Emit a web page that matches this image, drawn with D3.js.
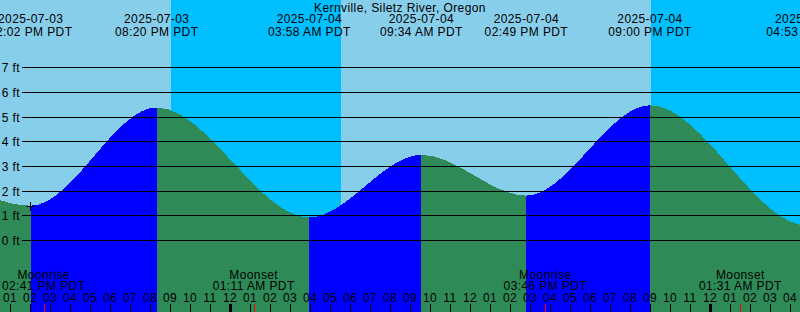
<!DOCTYPE html>
<html>
<head>
<meta charset="utf-8">
<script src="https://cdn.jsdelivr.net/npm/d3@7"></script>
<style>
  body { margin: 0; background: #fff; }
  svg { display: block; }
  text { font-family: "Liberation Sans", Arial, sans-serif; font-size: 12px; letter-spacing: 0.4px; fill: #000; }
</style>
</head>
<body>
<div class="chart"></div>
<script>
// tide extremes (first and last are just off screen)
const tideTimes = ["2025-07-03 08:45 AM", "2025-07-03 02:02 PM", "2025-07-03 08:20 PM",
    "2025-07-04 03:58 AM", "2025-07-04 09:34 AM", "2025-07-04 02:49 PM",
    "2025-07-04 09:00 PM", "2025-07-05 04:53 AM", "2025-07-05 10:20 AM"];
const tideHeights = [3.3, 1.39, 5.37, 0.92, 3.45, 1.8, 5.46, 0.58, 3.4];

// sunset / sunrise
const nightStarts = ["2025-07-03 09:03 PM", "2025-07-04 09:03 PM"];
const nightEnds = ["2025-07-04 05:33 AM", "2025-07-05 05:34 AM"];

// moon
const moonTimes = ["2025-07-03 02:41 PM", "2025-07-04 01:11 AM", "2025-07-04 03:46 PM", "2025-07-05 01:31 AM"];
const moonLabels = ["Moonrise", "Moonset", "Moonrise", "Moonset"];

const feetTicks = [0, 1, 2, 3, 4, 5, 6, 7];
const title = "Kernville, Siletz River, Oregon";

function drawChart() {
    const w = 800;
    const h = 312;
    const parse = d3.utcParse("%Y-%m-%d %I:%M %p");
    const fmtDate = d3.utcFormat("%Y-%m-%d");
    const fmtTime = d3.utcFormat("%I:%M %p PDT");

    const tides = tideTimes.map((t, i) => ({ t: parse(t), v: tideHeights[i] }));

    const xScale = d3.scaleUtc()
        .domain([parse("2025-07-03 12:30 PM"), parse("2025-07-05 04:30 AM")])
        .range([0, w]);

    const yScale = d3.scaleLinear()
        .domain([0, 7])
        .range([240, 67.3]);

    const svg = d3.select('.chart')
        .append('svg')
        .attr('width', w)
        .attr('height', h);

    // day / night background
    svg.append('rect')
        .attr('width', w)
        .attr('height', h)
        .attr('fill', '#87ceeb');

    svg.selectAll('.night')
        .data(nightStarts)
        .enter().append('rect')
        .attr('class', 'night')
        .attr('x', d => Math.round(xScale(parse(d))))
        .attr('width', (d, i) => Math.round(xScale(parse(nightEnds[i]))) - Math.round(xScale(parse(d))))
        .attr('y', 0)
        .attr('height', h)
        .attr('fill', '#00bfff');

    // water, blue while rising and green while falling
    const area = d3.area()
        .x(d => xScale(d.t))
        .y0(h)
        .y1(d => yScale(d.v))
        .curve(d3.curveMonotoneX);

    const defs = svg.append('defs');
    for (let i = 0; i < tides.length - 1; i++) {
        const x0 = Math.round(xScale(tides[i].t));
        const x1 = Math.round(xScale(tides[i + 1].t));
        defs.append('clipPath')
            .attr('id', 'seg' + i)
            .append('rect')
            .attr('x', x0)
            .attr('width', x1 - x0)
            .attr('y', 0)
            .attr('height', h);

        svg.append('path')
            .datum(tides)
            .attr('d', area)
            .attr('clip-path', 'url(#seg' + i + ')')
            .attr('fill', tides[i + 1].v > tides[i].v ? '#0000ff' : '#2e8b57')
            .attr('shape-rendering', 'crispEdges');
    }

    // feet grid
    const grid = svg.append('g');
    grid.selectAll('line')
        .data(feetTicks)
        .enter().append('line')
        .attr('x1', 22)
        .attr('x2', w)
        .attr('y1', d => Math.round(yScale(d)) + 0.5)
        .attr('y2', d => Math.round(yScale(d)) + 0.5)
        .attr('stroke', '#000')
        .attr('stroke-width', 1);

    grid.selectAll('text')
        .data(feetTicks)
        .enter().append('text')
        .attr('x', 20)
        .attr('y', d => Math.round(yScale(d)) + 4.5)
        .attr('text-anchor', 'end')
        .text(d => d + ' ft');

    // current time mark
    const now = tides[1];
    const nx = Math.round(xScale(now.t)) - 0.5;
    const ny = Math.round(yScale(now.v)) + 0.5;
    svg.append('path')
        .attr('d', `M${nx - 4},${ny}H${nx + 4}M${nx},${ny - 4.5}V${ny + 4.5}`)
        .attr('stroke', '#000')
        .attr('fill', 'none');

    // title + tide event labels
    svg.append('text')
        .attr('x', w / 2)
        .attr('y', 12)
        .attr('text-anchor', 'middle')
        .text(title);

    const labels = svg.append('g')
        .selectAll('g')
        .data(tides.slice(1, 8))
        .enter().append('g')
        .attr('transform', d => `translate(${xScale(d.t)},0)`);
    labels.append('text')
        .attr('y', 23)
        .attr('text-anchor', 'middle')
        .text(d => fmtDate(d.t));
    labels.append('text')
        .attr('y', 35.5)
        .attr('text-anchor', 'middle')
        .text(d => fmtTime(d.t));

    // moon events
    const moon = svg.append('g')
        .selectAll('g')
        .data(moonTimes)
        .enter().append('g')
        .attr('transform', d => `translate(${xScale(parse(d))},0)`);
    moon.append('text')
        .attr('y', 278.5)
        .attr('text-anchor', 'middle')
        .text((d, i) => moonLabels[i]);
    moon.append('text')
        .attr('y', 290)
        .attr('text-anchor', 'middle')
        .text(d => fmtTime(parse(d)));
    moon.append('line')
        .attr('x1', d => Math.round(xScale(parse(d))) - xScale(parse(d)) + 0.5)
        .attr('x2', d => Math.round(xScale(parse(d))) - xScale(parse(d)) + 0.5)
        .attr('y1', 304)
        .attr('y2', h)
        .attr('stroke', '#ff0000');

    // hour axis
    const hours = d3.utcHour.range(xScale.domain()[0], xScale.domain()[1]);
    const hourG = svg.append('g')
        .selectAll('g')
        .data(hours)
        .enter().append('g');
    hourG.append('text')
        .attr('x', d => xScale(d))
        .attr('y', 302)
        .attr('text-anchor', 'middle')
        .text(d3.utcFormat("%I"));
    hourG.append('line')
        .attr('x1', d => Math.round(xScale(d)) + 0.5)
        .attr('x2', d => Math.round(xScale(d)) + 0.5)
        .attr('y1', 304)
        .attr('y2', h)
        .attr('stroke', '#000')
        .attr('stroke-width', d => d.getUTCHours() === 0 ? 3 : 1);
}

drawChart();
</script>
</body>
</html>
